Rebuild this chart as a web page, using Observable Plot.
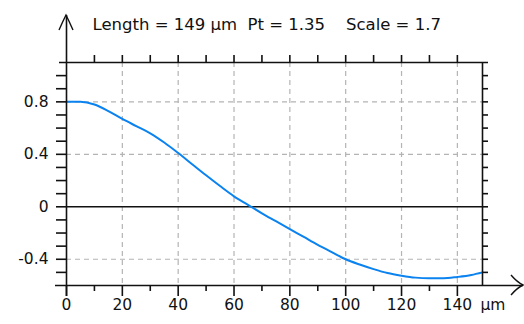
<!DOCTYPE html>
<html><head><meta charset="utf-8">
<script src="https://cdn.jsdelivr.net/npm/d3@7"></script>
<script src="https://cdn.jsdelivr.net/npm/@observablehq/plot@0.6"></script>
<style>body{margin:0;background:#fff}</style>
</head><body><div id="chart"></div>
<script>
const titleText = "Length = 149 µm  Pt = 1.35    Scale = 1.7";
const unitLabel = "µm";
const positions = [0,5,10,15,20,25,30,35,40,45,50,55,60,65,70,75,80,85,90,95,100,105,110,115,120,125,130,135,140,145,149];
const profile = [0.80,0.80,0.78,0.73,0.67,0.615,0.56,0.49,0.41,0.325,0.24,0.158,0.08,0.015,-0.05,-0.11,-0.17,-0.23,-0.29,-0.345,-0.40,-0.44,-0.475,-0.505,-0.525,-0.54,-0.545,-0.545,-0.535,-0.52,-0.50];
const xDomain = [0, 149];
const yDomain = [-0.6, 1.1];
const xMajorTicks = [0,20,40,60,80,100,120,140];
const xMinorTicks = [10,30,50,70,90,110,130];
const xTopTicks = [10,20,30,40,50,60,70,80,90,100,110,120,130,140];
const xGrid = [20,40,60,80,100,120,140];
const yLabelTicks = [0.8,0.4,0,-0.4];
const yGrid = [0.8,0.4,-0.4];
const ySideTicks = [-0.5,-0.4,-0.3,-0.2,-0.1,0,0.1,0.2,0.3,0.4,0.5,0.6,0.7,0.8,0.9,1.0];

const ink = "#111";
const gridColor = "#b4b4b4";
const curveColor = "#0a82f0";
const axisW = 1.6;

const chart = Plot.plot({
  width: 524, height: 324,
  marginLeft: 66, marginRight: 42, marginTop: 62, marginBottom: 39,
  x: {domain: xDomain, axis: null},
  y: {domain: yDomain, axis: null},
  style: {fontFamily: "'DejaVu Sans', sans-serif", fontSize: "15.5px", background: "white", color: "black"},
  marks: [
    Plot.ruleX(xGrid, {stroke: gridColor, strokeDasharray: "5,4", strokeWidth: 1.2}),
    Plot.ruleY(yGrid, {stroke: gridColor, strokeDasharray: "5,4", strokeWidth: 1.2}),
    Plot.ruleY([0], {stroke: ink, strokeWidth: axisW}),
    Plot.line(profile, {x: positions, y: profile, stroke: curveColor, strokeWidth: 2, curve: "monotone-x"}),
    // frame and axes
    Plot.ruleY([yDomain[1]], {stroke: ink, strokeWidth: axisW, insetLeft: -7, insetRight: -6}),
    Plot.ruleY([yDomain[0]], {stroke: ink, strokeWidth: axisW, insetLeft: -11, insetRight: -41}),
    Plot.ruleX([xDomain[0]], {stroke: ink, strokeWidth: axisW, insetTop: -47, insetBottom: -11}),
    Plot.ruleX([xDomain[1]], {stroke: ink, strokeWidth: axisW}),
    // ticks
    Plot.ruleX(xMajorTicks, {y1: yDomain[0], y2: yDomain[0], insetTop: 0, insetBottom: -11, stroke: ink, strokeWidth: axisW}),
    Plot.ruleX(xMinorTicks, {y1: yDomain[0], y2: yDomain[0], insetTop: 0, insetBottom: -6, stroke: ink, strokeWidth: axisW}),
    Plot.ruleX(xTopTicks, {y1: yDomain[1], y2: yDomain[1], insetTop: -7, insetBottom: 0, stroke: ink, strokeWidth: axisW}),
    Plot.ruleY(ySideTicks, {x1: xDomain[0], x2: xDomain[0], insetLeft: -10, insetRight: 0, stroke: ink, strokeWidth: axisW}),
    Plot.ruleY(ySideTicks, {x1: xDomain[1], x2: xDomain[1], insetLeft: 0, insetRight: -6, stroke: ink, strokeWidth: axisW}),
    // labels
    Plot.text(yLabelTicks, {x: xDomain[0], y: d => d, text: d => String(d), textAnchor: "end", dx: -18, fill: ink}),
    Plot.text(xMajorTicks, {x: d => d, y: yDomain[0], text: d => String(d), dy: 20, fill: ink}),
    Plot.text([unitLabel], {x: xDomain[1], y: yDomain[0], text: d => d, textAnchor: "start", dx: -2, dy: 20, fill: ink}),
    Plot.text([titleText], {frameAnchor: "top-left", text: d => d, textAnchor: "start", dx: 26, dy: -44, fontSize: 16.5, fill: ink})
  ]
});
d3.select(chart).style("white-space", "pre");

// axis arrowheads
const sx = chart.scale("x"), sy = chart.scale("y");
const x0 = sx.apply(xDomain[0]), yTop = sy.apply(yDomain[1]);
const xEnd = sx.apply(xDomain[1]), yBot = sy.apply(yDomain[0]);
const svg = d3.select(chart);
const upApex = yTop - 47;
svg.append("path")
  .attr("d", `M${x0-7},${upApex+15} Q${x0-3},${upApex+6} ${x0},${upApex} Q${x0+3},${upApex+6} ${x0+7},${upApex+15}`)
  .attr("fill", "none").attr("stroke", ink).attr("stroke-width", 1.4);
const rApex = xEnd + 41;
svg.append("path")
  .attr("d", `M${rApex-12},${yBot-10} Q${rApex-6},${yBot-3} ${rApex},${yBot} Q${rApex-6},${yBot+3} ${rApex-12},${yBot+10}`)
  .attr("fill", "none").attr("stroke", ink).attr("stroke-width", 1.4);

document.getElementById("chart").appendChild(chart);
</script></body></html>
